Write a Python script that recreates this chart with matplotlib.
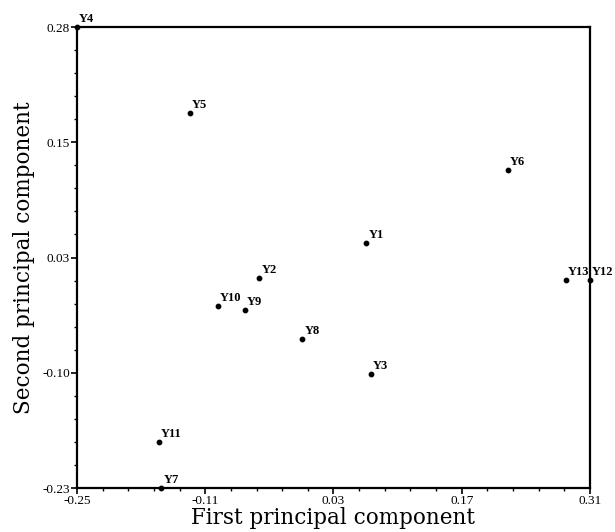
import numpy as np
import matplotlib.pyplot as plt
from matplotlib.ticker import FixedLocator, AutoMinorLocator

# component scores
names = ['Y1', 'Y2', 'Y3', 'Y4', 'Y5', 'Y6', 'Y7', 'Y8', 'Y9', 'Y10', 'Y11', 'Y12', 'Y13']
pc1 = [0.066, -0.051, 0.071, -0.25, -0.127, 0.220, -0.158, -0.004, -0.067, -0.096, -0.161, 0.31, 0.284]
pc2 = [0.041, 0.002, -0.104, 0.28, 0.185, 0.122, -0.23, -0.065, -0.033, -0.029, -0.179, 0.0, 0.0]

xticks = [-0.25, -0.11, 0.03, 0.17, 0.31]
yticks = [-0.23, -0.10, 0.03, 0.15, 0.28]
yticks_pos = np.linspace(-0.23, 0.28, 5)

fig = plt.figure(figsize=(6.15, 5.32), dpi=100)
ax = fig.add_axes([0.1252, 0.0827, 0.8341, 0.8665])

ax.scatter(pc1, pc2, s=10, color='black', zorder=3, clip_on=False)
for n, x, y in zip(names, pc1, pc2):
    ax.annotate(n, (x, y), xytext=(1.5, 3.5), textcoords='offset points',
                fontsize=9, fontweight='bold', family='Liberation Serif')

ax.set_xlim(-0.25, 0.31)
ax.set_ylim(-0.23, 0.28)
ax.xaxis.set_major_locator(FixedLocator(xticks))
ax.yaxis.set_major_locator(FixedLocator(yticks_pos))
ax.set_xticklabels(['%.2f' % v for v in xticks])
ax.set_yticklabels(['%.2f' % v for v in yticks])
ax.xaxis.set_minor_locator(AutoMinorLocator(5))
ax.yaxis.set_minor_locator(AutoMinorLocator(5))

ax.tick_params(which='major', length=4, width=1.2, labelsize=9.5, pad=1)
ax.tick_params(which='minor', length=2.5, width=1.0)
for lab in ax.get_xticklabels() + ax.get_yticklabels():
    lab.set_family('Liberation Serif')
for sp in ax.spines.values():
    sp.set_linewidth(1.6)

ax.set_xlabel('First principal component', family='DejaVu Serif', fontsize=15.5, labelpad=0)
ax.set_ylabel('Second principal component', family='DejaVu Serif', fontsize=15.5, labelpad=5)

fig.savefig('out.png', dpi=100)
